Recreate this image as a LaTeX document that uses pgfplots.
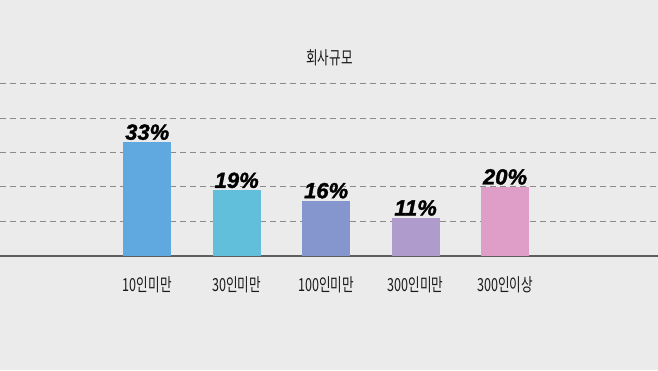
\documentclass[border=0pt]{standalone}
\usepackage{pgfplots}
\pgfplotsset{compat=1.18}
\usepackage{fontspec}
\setmainfont{Noto Sans CJK KR}
\newfontfamily\kr{Noto Sans CJK KR}[FakeStretch=0.7]
\newfontfamily\numfont{Liberation Sans}[FakeBold=1.5]
\definecolor{bg}{HTML}{EBEBEB}
\definecolor{txt}{HTML}{1A1A1A}
\definecolor{gridc}{HTML}{8A8A8A}
\definecolor{basec}{HTML}{5E5E5E}
\definecolor{c1}{HTML}{60A9E0}
\definecolor{c2}{HTML}{62BFDC}
\definecolor{c3}{HTML}{8596CF}
\definecolor{c4}{HTML}{B09CCC}
\definecolor{c5}{HTML}{DE9EC8}
\begin{document}
\begin{tikzpicture}
\begin{axis}[
 name=ax,
 width=658pt, height=370pt, scale only axis,
 xmin=-1.646, xmax=5.71, ymin=-33.2, ymax=74.3,
 /pgf/number format/assume math mode=true,
 axis line style={draw=none},
 axis background/.style={fill=bg},
 xtick={0,1,2,3,4},
 xticklabels={10인미만,30인미만,100인미만,300인미만,300인이상},
 xticklabel style={font=\kr\fontsize{18}{20}\selectfont, text=txt, yshift=97pt},
 ytick={10,20,30,40,50}, yticklabels={},
 ymajorgrids, grid style={gridc, line width=0.8pt, dash pattern=on 6pt off 4pt},
 extra y ticks={0}, extra y tick labels={},
 extra y tick style={grid style={solid, line width=2pt, basec}},
 major tick length=0pt,
 nodes near coords={\pgfmathprintnumber{\pgfplotspointmeta}\%},
 every node near coord/.append style={font=\numfont\bfseries\itshape\fontsize{22}{24}\selectfont, text=black, inner sep=1pt, yshift=1pt},
 clip=false,
]
\addplot[ybar, bar width=48pt, fill=c1, draw=none] coordinates {(0,33)};
\addplot[ybar, bar width=48pt, fill=c2, draw=none] coordinates {(1,19)};
\addplot[ybar, bar width=48pt, fill=c3, draw=none] coordinates {(2,16)};
\addplot[ybar, bar width=48pt, fill=c4, draw=none] coordinates {(3,11)};
\addplot[ybar, bar width=48pt, fill=c5, draw=none] coordinates {(4,20)};
\node[font=\kr\fontsize{18}{20}\selectfont, text=txt] at (rel axis cs:0.5008,0.843) {회사규모};
\end{axis}
\pgfresetboundingbox
\path[use as bounding box] (ax.south west) rectangle (ax.north east);
\end{tikzpicture}
\end{document}
